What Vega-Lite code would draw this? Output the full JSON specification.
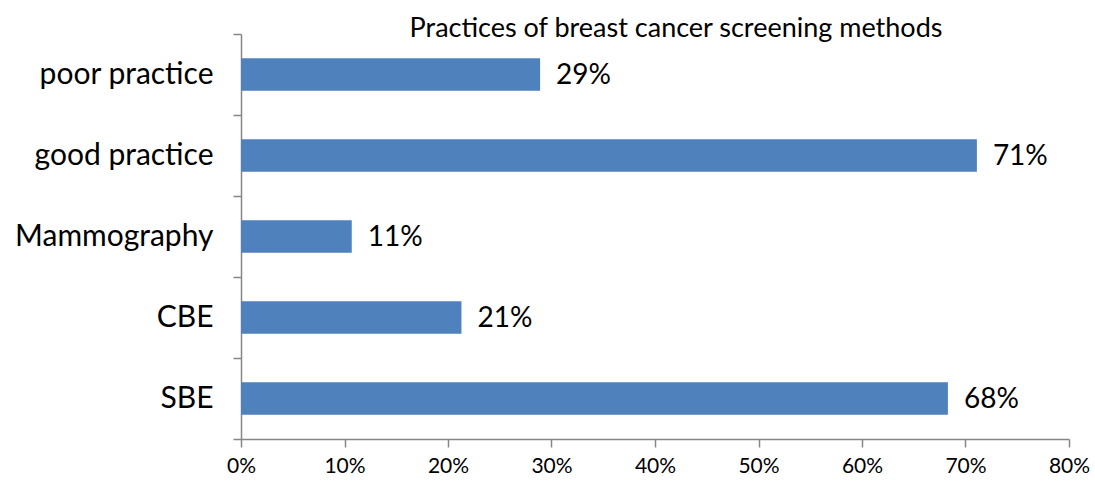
{
  "$schema": "https://vega.github.io/schema/vega-lite/v6.json",
  "width": 828,
  "height": 405,
  "autosize": "none",
  "padding": {"left": 241, "top": 34, "right": 26, "bottom": 48},
  "background": "white",
  "title": {
    "text": "Practices of breast cancer screening methods",
    "font": "Lato",
    "fontSize": 27,
    "fontWeight": "normal",
    "color": "#000000",
    "anchor": "middle",
    "dx": 21,
    "offset": -24
  },
  "config": {
    "view": {"stroke": null},
    "font": "Lato"
  },
  "data": {
    "values": [
      {"method": "poor practice", "value": 0.289},
      {"method": "good practice", "value": 0.711},
      {"method": "Mammography", "value": 0.107},
      {"method": "CBE", "value": 0.213},
      {"method": "SBE", "value": 0.683}
    ]
  },
  "encoding": {
    "y": {
      "field": "method",
      "type": "nominal",
      "sort": null,
      "title": null,
      "scale": {"paddingInner": 0, "paddingOuter": 0},
      "axis": {
        "tickBand": "extent",
        "grid": false,
        "domainColor": "#868686",
        "domainWidth": 1.5,
        "tickColor": "#868686",
        "tickWidth": 1.5,
        "tickSize": 8,
        "labelPadding": 20,
        "labelLimit": 400,
        "labelFont": "Lato",
        "labelFontSize": 30,
        "labelColor": "#000000"
      }
    },
    "x": {
      "field": "value",
      "type": "quantitative",
      "title": null,
      "scale": {"domain": [0, 0.8], "nice": false},
      "axis": {
        "format": ".0%",
        "values": [0, 0.1, 0.2, 0.3, 0.4, 0.5, 0.6, 0.7, 0.8],
        "grid": false,
        "domainColor": "#868686",
        "domainWidth": 1.5,
        "tickColor": "#868686",
        "tickWidth": 1.5,
        "tickSize": 8,
        "labelPadding": 8,
        "labelFont": "Lato",
        "labelFontSize": 21,
        "labelColor": "#000000",
        "labelFlush": false
      }
    }
  },
  "layer": [
    {"mark": {"type": "bar", "color": "#4F81BD", "height": {"band": 0.4}}},
    {
      "mark": {"type": "text", "align": "left", "baseline": "middle", "dx": 16, "dy": 1, "fontSize": 28, "font": "Lato", "color": "#000000"},
      "encoding": {"text": {"field": "value", "format": ".0%"}}
    }
  ]
}
